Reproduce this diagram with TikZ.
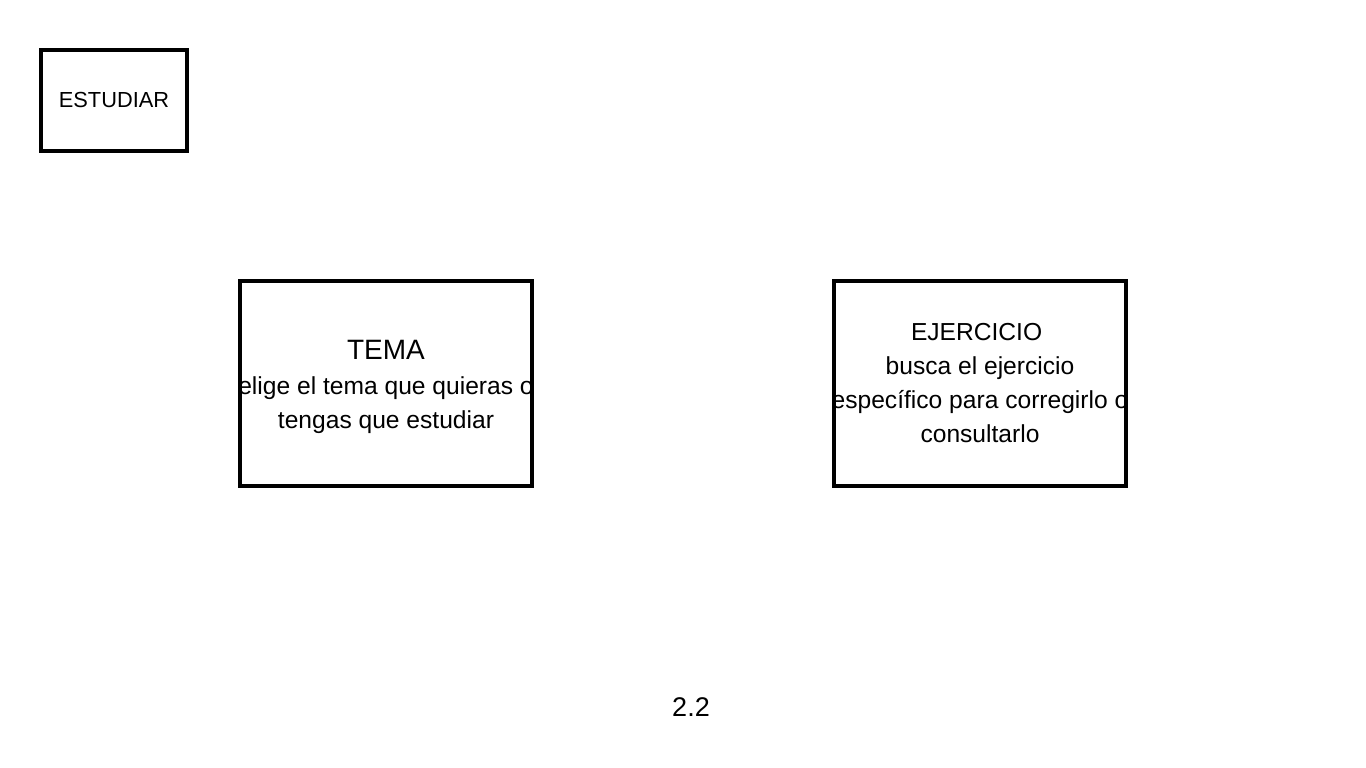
\documentclass[tikz,border=0pt]{standalone}
\usepackage{fontspec}
\setmainfont{Liberation Sans}
\usepackage{xcolor}
\usepackage{tikz}

\begin{document}
\begin{tikzpicture}[x=1pt, y=-1pt,
  box/.style={draw, line width=3.6pt, inner sep=0pt},
  txt/.style={align=center, inner sep=0pt, font=\fontsize{24.6pt}{34pt}\selectfont}]
\useasboundingbox[fill=white] (0,0) rectangle (1366,768);

\node[box, minimum width=146.4pt, minimum height=101.4pt] (estudiar) at (114,100.5) {};
\node[inner sep=0pt, font=\fontsize{21.8pt}{26pt}\selectfont] (estudiarTxt) at (114,99.5) {ESTUDIAR};

\node[box, minimum width=292.4pt, minimum height=205.4pt] (tema) at (386,383.5) {};
\node[txt] (temaTxt) at (386,387) {{\fontsize{28pt}{36pt}\selectfont TEMA}\\[1pt] elige el tema que quieras o\\ tengas que estudiar};

\node[box, minimum width=292.4pt, minimum height=205.4pt] (ejercicio) at (980,383.5) {};
\node[txt] (ejercicioTxt) at (ejercicio.center) {EJERCICIO\hspace*{6.8pt}\\ busca el ejercicio\\ espec\'ifico para corregirlo o\\ consultarlo};

\node[inner sep=0pt, font=\fontsize{27pt}{32pt}\selectfont] (pagina) at (691,707) {2.2};
\end{tikzpicture}
\end{document}
